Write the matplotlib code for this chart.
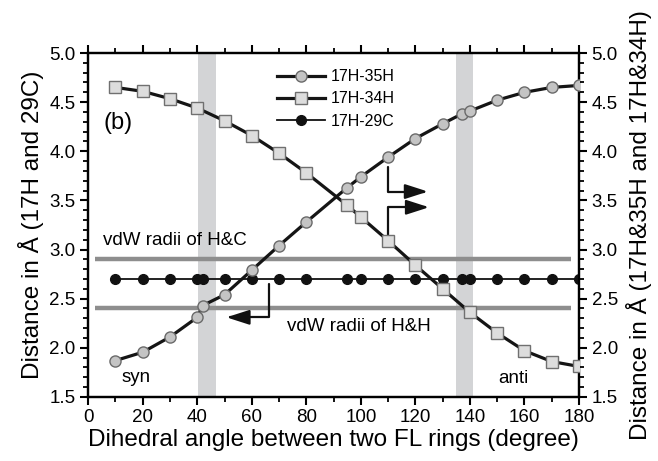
import numpy as np
import matplotlib
matplotlib.use("Agg")
import matplotlib.pyplot as plt
from matplotlib.ticker import MultipleLocator, FormatStrFormatter

plt.rcParams['font.family'] = ['Liberation Sans', 'DejaVu Sans']

# data
x_35h = [10, 20, 30, 40, 42, 50, 60, 70, 80, 95, 100, 110, 120, 130, 137, 140, 150, 160, 170, 180]
d_35h = [1.87, 1.955, 2.11, 2.31, 2.43, 2.54, 2.79, 3.04, 3.28, 3.63, 3.74, 3.94, 4.13, 4.28, 4.38, 4.41, 4.52, 4.60, 4.65, 4.67]
x_34h = [10, 20, 30, 40, 50, 60, 70, 80, 95, 100, 110, 120, 130, 140, 150, 160, 170, 180]
d_34h = [4.65, 4.61, 4.535, 4.44, 4.31, 4.16, 3.98, 3.78, 3.45, 3.33, 3.09, 2.84, 2.60, 2.36, 2.15, 1.97, 1.86, 1.81]
x_29c = [10, 20, 30, 40, 42, 50, 60, 70, 80, 95, 100, 110, 120, 130, 137, 140, 150, 160, 170, 180]
d_29c = [2.70, 2.70, 2.70, 2.70, 2.70, 2.70, 2.70, 2.70, 2.70, 2.70, 2.70, 2.70, 2.70, 2.70, 2.70, 2.70, 2.70, 2.70, 2.70, 2.70]

bands = [(40.3, 46.9), (134.9, 141.1)]
vdw_levels = [2.9, 2.4]
vdw_span = (2.5, 177)

fig = plt.figure(figsize=(6.58, 4.61), dpi=100)
ax = fig.add_axes([0.134, 0.139, 0.746, 0.746])
ax2 = ax.twinx()

for lo, hi in bands:
    ax.axvspan(lo, hi, color='#d3d4d6', lw=0, zorder=0)
ax.hlines(vdw_levels, vdw_span[0], vdw_span[1], color='#8e8e8e', lw=3.2, zorder=1)

h29, = ax.plot(x_29c, d_29c, '-', color='#111111', lw=1.3, marker='o', ms=7,
               mfc='#111111', mec='#111111', zorder=3, label='17H-29C')
h35, = ax2.plot(x_35h, d_35h, '-', color='#151515', lw=2.3, marker='o', ms=8,
                mfc='#c4c4c4', mec='#6a6a6a', mew=1.0, zorder=3, label='17H-35H')
h34, = ax2.plot(x_34h, d_34h, '-', color='#151515', lw=2.3, marker='s', ms=8,
                mfc='#dddddd', mec='#707070', mew=1.0, zorder=3, label='17H-34H')

# arrows pointing to the axis each curve belongs to
arw = dict(arrowstyle='-|>,head_length=1.4,head_width=0.45', color='#111111', lw=1.6,
           mutation_scale=10, shrinkA=0, shrinkB=0)
ax.annotate('', xy=(124.6, 3.59), xytext=(110, 3.84),
            arrowprops=dict(connectionstyle='angle,angleA=90,angleB=0,rad=0', **arw))
ax.annotate('', xy=(125, 3.43), xytext=(110, 3.13),
            arrowprops=dict(connectionstyle='angle,angleA=90,angleB=0,rad=0', **arw))
ax.annotate('', xy=(50.7, 2.31), xytext=(66.2, 2.65),
            arrowprops=dict(connectionstyle='angle,angleA=90,angleB=0,rad=0', **arw))

ax.text(5.3, 3.09, 'vdW radii of H&C', fontsize=13.5, va='center', ha='left')
ax.text(72.9, 2.22, 'vdW radii of H&H', fontsize=13.5, va='center', ha='left')
ax.text(12.2, 1.70, 'syn', fontsize=13.5, va='center', ha='left')
ax.text(150.3, 1.69, 'anti', fontsize=13.5, va='center', ha='left')
ax.text(5.8, 4.29, '(b)', fontsize=17, va='center', ha='left')

for a in (ax, ax2):
    a.set_xlim(0, 180)
    a.set_ylim(1.5, 5.0)
    a.yaxis.set_major_locator(MultipleLocator(0.5))
    a.yaxis.set_minor_locator(MultipleLocator(0.1))
    a.yaxis.set_major_formatter(FormatStrFormatter('%.1f'))
    a.tick_params(which='major', direction='out', length=6, width=1.5, labelsize=13.5, pad=3)
    a.tick_params(which='minor', direction='out', length=3.5, width=1.3)
    for s in a.spines.values():
        s.set_linewidth(1.6)

ax.xaxis.set_major_locator(MultipleLocator(20))
ax.xaxis.set_minor_locator(MultipleLocator(10))
ax.tick_params(axis='x', which='both', top=True)

ax.set_xlabel('Dihedral angle between two FL rings (degree)', fontsize=17.5, labelpad=2)
ax.set_ylabel('Distance in Å (17H and 29C)', fontsize=17.5, labelpad=4)
ax2.set_ylabel('Distance in Å (17H&35H and 17H&34H)', fontsize=17.5, labelpad=6)

ax2.legend([h35, h34, h29], ['17H-35H', '17H-34H', '17H-29C'], loc='upper left',
           bbox_to_anchor=(0.384, 0.953), frameon=False, fontsize=11.5, handlelength=3.0,
           handletextpad=0.4, labelspacing=0.45, borderpad=0, borderaxespad=0)

fig.savefig('out.png', dpi=100)
